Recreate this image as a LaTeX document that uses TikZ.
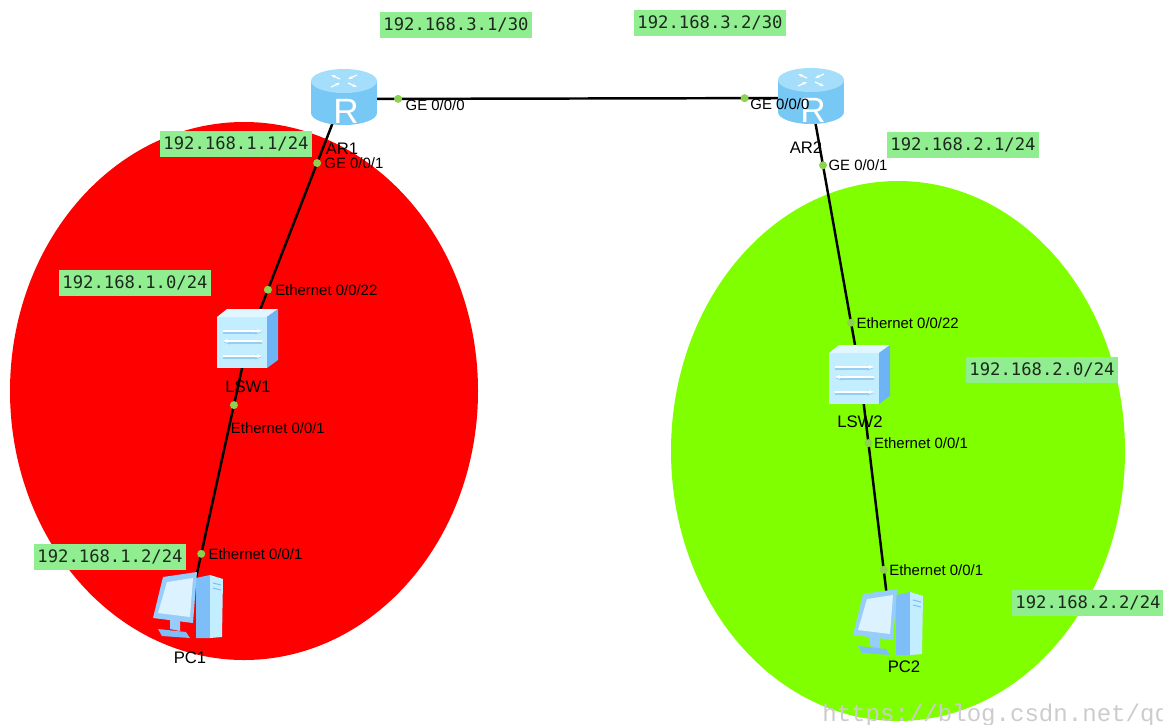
\documentclass[tikz,border=0pt]{standalone}
\usepackage{fontspec}
\setmainfont{Liberation Sans}
\newfontfamily\ipfont{DejaVu Sans Mono}
\newfontfamily\wmfont{Liberation Mono}
\usepackage{tikz}
\usetikzlibrary{arrows.meta,calc,positioning}
\definecolor{lanred}{RGB}{255,0,0}
\definecolor{langreen}{RGB}{128,255,0}
\definecolor{iplight}{RGB}{144,238,144}
\definecolor{ipdark}{RGB}{30,40,30}
\definecolor{portgreen}{RGB}{140,210,80}
\definecolor{routerbody}{RGB}{120,200,245}
\definecolor{routertop}{RGB}{165,222,250}
\definecolor{swfront}{RGB}{195,238,255}
\definecolor{swtop}{RGB}{225,247,255}
\definecolor{swside}{RGB}{110,180,245}
\definecolor{swshadow}{RGB}{150,205,240}
\definecolor{pcframe}{RGB}{150,205,250}
\definecolor{pcscreen}{RGB}{220,242,255}
\definecolor{pcside}{RGB}{125,190,248}
\tikzset{%
	device/.style    = {inner sep=0pt, minimum size=0pt}, % invisible anchor of an icon
	port/.style      = {circle, fill=portgreen, inner sep=0pt, minimum size=0.16cm},
	portlabel/.style = {inner sep=0pt, font=\fontsize{8.5}{9}\selectfont},
	devlabel/.style  = {inner sep=0pt, font=\fontsize{9.5}{10}\selectfont},
	iplabel/.style   = {fill=iplight, text=ipdark, inner xsep=2pt, minimum height=0.48cm, font=\ipfont\fontsize{9.8}{10}\selectfont},
	link/.style      = {line width=1.4pt},
	watermark/.style = {inner sep=0pt, text=black!20, font=\wmfont\fontsize{13.7}{14}\selectfont},
}
\tikzset{%
	router/.pic = {
		\fill[routerbody] (0,18) ellipse [x radius=33, y radius=12];
		\fill[routerbody] (-33,-14) rectangle (33,18);
		\fill[routertop] (0,-14) ellipse [x radius=33, y radius=12];
		\begin{scope}[white, line width=0.7pt, -{Stealth[length=2.5pt]}]
			\draw (-4,-16) -- (-13,-20);
			\draw (4,-12) -- (13,-8);
			\draw (13,-20) -- (4,-16);
			\draw (-13,-8) -- (-4,-12);
		\end{scope}
		\node[text=white, font=\fontsize{20}{20}\selectfont] at (2,16) {R};
	},
	lanswitch/.pic = {
		\fill[swtop] (-31,-24) -- (-21,-32) -- (30,-32) -- (19,-24) -- cycle;
		\fill[swside] (19,-24) -- (30,-32) -- (30,19) -- (19,27) -- cycle;
		\fill[swfront] (-31,-24) rectangle (19,27);
		\begin{scope}[swshadow, line width=2pt, -{Stealth[length=4pt]}]
			\draw (-25,-9) -- (14,-9);
			\draw (14,1) -- (-25,1);
			\draw (-25,16) -- (14,16);
		\end{scope}
		\begin{scope}[white, line width=1pt, -{Stealth[length=3pt]}]
			\draw (-25,-10) -- (14,-10);
			\draw (14,0) -- (-25,0);
			\draw (-25,15) -- (14,15);
		\end{scope}
	},
	pcicon/.pic = {
		\fill[pcside] (6,-27) -- (20,-30) -- (20,33) -- (6,33) -- cycle;
		\fill[swfront] (20,-30) -- (33,-26) -- (32,32) -- (20,33) -- cycle;
		\draw[pcside, line width=0.6pt] (23,-22) -- (31,-20) (23,-17) -- (31,-15);
		\fill[pcside] (-32,24) -- (-4,27) -- (0,33) -- (-28,31) -- cycle;
		\fill[pcframe] (-20,13) -- (-10,15) -- (-10,26) -- (-20,24) -- cycle;
		\fill[pcframe] (-27,-28) -- (7,-33) -- (3,18) -- (-37,13) -- cycle;
		\fill[pcscreen] (-23,-23) -- (3,-27) -- (0,12) -- (-32,8) -- cycle;
	},
}

\begin{document}
\begin{tikzpicture}[x=0.02cm, y=-0.02cm]
	\useasboundingbox (0,0) rectangle (1163,724);
	\clip (0,0) rectangle (1163,724);

	% the two LANs
	\fill[lanred] (244,391) ellipse [x radius=234, y radius=269];
	\fill[langreen] (898,451) ellipse [x radius=227, y radius=270];

	% addresses
	\node [iplabel] (ip31) at (456,25) {192.168.3.1/30};
	\node [iplabel] (ip32) at (710,23) {192.168.3.2/30};
	\node [iplabel] (ip11) at (236,144) {192.168.1.1/24};
	\node [iplabel] (ip10) at (135,283) {192.168.1.0/24};
	\node [iplabel] (ip12) at (110,557) {192.168.1.2/24};
	\node [iplabel] (ip21) at (963,145) {192.168.2.1/24};
	\node [iplabel] (ip20) at (1042,370) {192.168.2.0/24};
	\node [iplabel] (ip22) at (1088,603) {192.168.2.2/24};

	\node [device] (ar1) at (342,99) {};
	\node [device] (ar2) at (811,98) {};
	\node [device] (lsw1) at (248,341) {};
	\node [device] (lsw2) at (860,373) {};
	\node [device] (pc1) at (190,605) {};
	\node [device] (pc2) at (890,622) {};

	\draw[link] (ar1) -- node[port,pos=0.119] (p1) {} node[port,pos=0.859] (p2) {} (ar2);
	\draw[link] (ar1) -- node[port,pos=0.264] (p3) {} node[port,pos=0.789] (p4) {} (lsw1);
	\draw[link] (lsw1) -- node[port,pos=0.242] (p5) {} node[port,pos=0.807] (p6) {} (pc1);
	\draw[link] (ar2) -- node[port,pos=0.244] (p7) {} node[port,pos=0.818] (p8) {} (lsw2);
	\draw[link] (lsw2) -- node[port,pos=0.281] (p9) {} node[port,pos=0.791] (p10) {} (pc2);

	\path (ar1) ++(2,-4) pic {router};
	\path (ar2) ++(0,-4) pic {router};
	\path (lsw1) pic {lanswitch};
	\path (lsw2) ++(0,4) pic {lanswitch};
	\path (pc1) pic {pcicon};
	\path (pc2) pic {pcicon};

	% port names
	\node [portlabel, below right=-2pt and 2pt of p1] (l1) {GE 0/0/0};
	\node [portlabel, below right=-2pt and 1pt of p2] (l2) {GE 0/0/0};
	\node [portlabel, right=1pt of p3] (l3) {GE 0/0/1};
	\node [portlabel, right=1pt of p4] (l4) {Ethernet 0/0/22};
	\node [portlabel, below right=0.28cm and -0.14cm of p5] (l5) {Ethernet 0/0/1};
	\node [portlabel, right=1pt of p6] (l6) {Ethernet 0/0/1};
	\node [portlabel, right=0pt of p7] (l7) {GE 0/0/1};
	\node [portlabel, right=0pt of p8] (l8) {Ethernet 0/0/22};
	\node [portlabel, right=0pt of p9] (l9) {Ethernet 0/0/1};
	\node [portlabel, right=0pt of p10] (l10) {Ethernet 0/0/1};

	% device names
	\node [devlabel, below=0.86cm of ar1] (ar1l) {AR1};
	\node [devlabel, below=0.86cm of ar2, xshift=-0.1cm] (ar2l) {AR2};
	\node [devlabel, below=0.78cm of lsw1] (lsw1l) {LSW1};
	\node [devlabel, below=0.84cm of lsw2] (lsw2l) {LSW2};
	\node [devlabel, below=0.92cm of pc1] (pc1l) {PC1};
	\node [devlabel, below=0.76cm of pc2, xshift=0.28cm] (pc2l) {PC2};

	\node [watermark, anchor=base west] (wm) at (822,721) {https://blog.csdn.net/qq};
\end{tikzpicture}
\end{document}
